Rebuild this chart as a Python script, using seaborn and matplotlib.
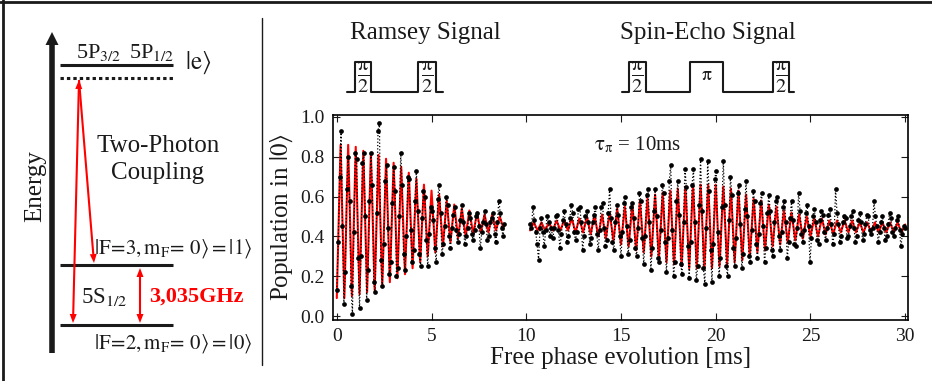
import numpy as np
import pandas as pd
import seaborn as sns
import matplotlib.pyplot as plt

sns.set_theme(style='ticks', rc={'text.color': 'k', 'axes.labelcolor': 'k', 'xtick.color': 'k',
                                 'ytick.color': 'k', 'axes.edgecolor': 'k'})
plt.rcParams['font.family'] = ['Liberation Serif', 'DejaVu Serif']
plt.rcParams['mathtext.fontset'] = 'stix'

# measured population in |0>, Ramsey part (sampled every 0.075 ms from 0 ms)
ramsey_t0, ramsey_dt = 0.0, 0.075
ramsey_pop = [
    0.13, 0.37, 0.70, 0.93, 0.45, 0.06, 0.22, 0.64, 0.80, 0.58, 0.15, 0.01, 0.42, 0.82, 0.79, 0.29,
    0.04, 0.30, 0.77, 0.82, 0.50, 0.08, 0.23, 0.58, 0.82, 0.66, 0.17, 0.12, 0.52, 0.93, 0.97, 0.28,
    0.15, 0.36, 0.68, 0.76, 0.44, 0.21, 0.27, 0.57, 0.75, 0.63, 0.20, 0.24, 0.50, 0.82, 0.66, 0.31,
    0.23, 0.40, 0.70, 0.69, 0.43, 0.27, 0.33, 0.58, 0.73, 0.53, 0.31, 0.25, 0.49, 0.63, 0.60, 0.38,
    0.25, 0.41, 0.55, 0.53, 0.48, 0.34, 0.27, 0.59, 0.66, 0.52, 0.31, 0.36, 0.45, 0.60, 0.56, 0.40,
    0.34, 0.44, 0.51, 0.55, 0.43, 0.37, 0.41, 0.48, 0.56, 0.47, 0.36, 0.40, 0.44, 0.52, 0.49, 0.41,
    0.38, 0.43, 0.50, 0.52, 0.45, 0.34, 0.42, 0.47, 0.53, 0.46, 0.38, 0.40, 0.47, 0.49, 0.52, 0.41,
    0.37, 0.47, 0.58, 0.52, 0.44, 0.40, 0.46,
]
# fit curve, extrema every 0.2 ms
ramsey_fit_dt = 0.2
ramsey_fit = [
    0.09, 0.86, 0.09, 0.86, 0.10, 0.85, 0.11, 0.83, 0.12, 0.82, 0.13, 0.81, 0.15, 0.79, 0.17, 0.77,
    0.19, 0.75, 0.21, 0.72, 0.24, 0.69, 0.27, 0.66, 0.30, 0.63, 0.32, 0.61, 0.35, 0.58, 0.37, 0.56,
    0.39, 0.54, 0.40, 0.53, 0.41, 0.52, 0.42, 0.51, 0.42, 0.51, 0.43, 0.50, 0.44,
]

# spin-echo part (sampled every 0.075 ms from 10.2 ms)
echo_t0, echo_dt = 10.2, 0.075
echo_pop = [
    0.46, 0.44, 0.55, 0.48, 0.42, 0.36, 0.28, 0.44, 0.49, 0.42, 0.35, 0.43, 0.50, 0.47, 0.40, 0.44,
    0.39, 0.44, 0.50, 0.51, 0.43, 0.34, 0.41, 0.48, 0.53, 0.46, 0.37, 0.40, 0.49, 0.56, 0.52, 0.42,
    0.38, 0.42, 0.54, 0.55, 0.47, 0.33, 0.40, 0.50, 0.53, 0.47, 0.36, 0.39, 0.47, 0.51, 0.55, 0.41,
    0.33, 0.43, 0.55, 0.57, 0.44, 0.35, 0.38, 0.52, 0.64, 0.49, 0.37, 0.33, 0.47, 0.56, 0.51, 0.40,
    0.30, 0.42, 0.57, 0.60, 0.45, 0.31, 0.38, 0.55, 0.57, 0.49, 0.34, 0.30, 0.44, 0.62, 0.58, 0.39,
    0.26, 0.40, 0.61, 0.64, 0.47, 0.23, 0.34, 0.53, 0.64, 0.50, 0.29, 0.27, 0.43, 0.66, 0.62, 0.37,
    0.22, 0.39, 0.68, 0.76, 0.43, 0.20, 0.27, 0.58, 0.68, 0.51, 0.26, 0.21, 0.47, 0.74, 0.65, 0.35,
    0.19, 0.37, 0.66, 0.74, 0.47, 0.18, 0.25, 0.56, 0.79, 0.53, 0.24, 0.16, 0.44, 0.78, 0.63, 0.33,
    0.17, 0.36, 0.69, 0.73, 0.42, 0.20, 0.29, 0.55, 0.78, 0.56, 0.25, 0.20, 0.48, 0.70, 0.61, 0.34,
    0.25, 0.39, 0.62, 0.66, 0.46, 0.24, 0.31, 0.54, 0.68, 0.50, 0.30, 0.27, 0.43, 0.63, 0.58, 0.36,
    0.29, 0.41, 0.57, 0.62, 0.45, 0.27, 0.34, 0.52, 0.61, 0.53, 0.33, 0.30, 0.47, 0.58, 0.60, 0.40,
    0.33, 0.42, 0.55, 0.58, 0.47, 0.29, 0.37, 0.49, 0.58, 0.48, 0.36, 0.35, 0.44, 0.62, 0.53, 0.41,
    0.37, 0.43, 0.52, 0.56, 0.45, 0.27, 0.39, 0.50, 0.54, 0.47, 0.38, 0.36, 0.48, 0.53, 0.51, 0.42,
    0.38, 0.44, 0.51, 0.54, 0.46, 0.36, 0.41, 0.64, 0.52, 0.46, 0.37, 0.40, 0.47, 0.50, 0.49, 0.39,
    0.40, 0.45, 0.50, 0.53, 0.44, 0.37, 0.40, 0.48, 0.52, 0.47, 0.38, 0.41, 0.46, 0.51, 0.50, 0.43,
    0.41, 0.44, 0.58, 0.50, 0.45, 0.37, 0.42, 0.47, 0.50, 0.44, 0.38, 0.40, 0.46, 0.52, 0.49, 0.42,
    0.40, 0.44, 0.48, 0.50, 0.43, 0.35, 0.41, 0.45, 0.44,
]
echo_fit_dt = 0.2
echo_fit = [
    0.43, 0.47, 0.43, 0.47, 0.43, 0.47, 0.43, 0.48, 0.43, 0.48, 0.43, 0.49, 0.42, 0.49, 0.42, 0.50,
    0.41, 0.51, 0.40, 0.51, 0.39, 0.52, 0.38, 0.54, 0.36, 0.55, 0.35, 0.56, 0.33, 0.58, 0.32, 0.59,
    0.30, 0.61, 0.29, 0.62, 0.27, 0.63, 0.26, 0.64, 0.25, 0.65, 0.24, 0.66, 0.24, 0.66, 0.24, 0.66,
    0.24, 0.66, 0.25, 0.65, 0.26, 0.64, 0.27, 0.63, 0.28, 0.61, 0.30, 0.59, 0.32, 0.58, 0.33, 0.56,
    0.35, 0.55, 0.36, 0.53, 0.37, 0.52, 0.38, 0.51, 0.39, 0.50, 0.40, 0.49, 0.40, 0.49, 0.41, 0.48,
    0.41, 0.48, 0.42, 0.48, 0.42, 0.48, 0.42, 0.47, 0.42, 0.47, 0.42, 0.47, 0.42, 0.47, 0.42, 0.47,
    0.42, 0.47, 0.42, 0.46,
]

xticks = [0, 5, 10, 15, 20, 25, 30]
yticks = [0.0, 0.2, 0.4, 0.6, 0.8, 1.0]

RED = '#ff0000'

fig = plt.figure(figsize=(9.32, 3.81), dpi=100)
ax = fig.add_axes([0.3573, 0.1601, 0.6170, 0.5381])

segments = [
    (ramsey_t0, ramsey_dt, ramsey_pop, ramsey_t0, ramsey_fit_dt, ramsey_fit),
    (echo_t0, echo_dt, echo_pop, echo_t0, echo_fit_dt, echo_fit),
]
for t0, dt, pop, ft0, fdt, fit in segments:
    fit_df = pd.DataFrame({'t': ft0 + fdt * np.arange(len(fit)), 'p': fit})
    sns.lineplot(data=fit_df, x='t', y='p', ax=ax, color=RED, lw=1.5,
                 estimator=None, sort=False, zorder=2)
    df = pd.DataFrame({'t': t0 + dt * np.arange(len(pop)), 'p': pop})
    sns.lineplot(data=df, x='t', y='p', ax=ax, color='black', lw=0.9, linestyle=':',
                 marker='o', markersize=3.4, markeredgewidth=0, estimator=None, sort=False, zorder=3)

ax.set_xlim(-0.2, 30.15)
ax.set_ylim(-0.02, 1.01)
ax.set_xticks(xticks)
ax.set_yticks(yticks)
ax.set_yticklabels(['%.1f' % v for v in yticks])
ax.tick_params(direction='in', length=5, width=0.8, top=True, right=True, labelsize=14, pad=6)
for s in ax.spines.values():
    s.set_linewidth(1.2)
    s.set_color('black')
ax.set_xlabel('Free phase evolution [ms]', fontsize=18, labelpad=1)
ax.set_ylabel(r'Population in $|0\rangle$', fontsize=18, labelpad=4)
ax.text(15.9, 0.86, r'$\mathrm{\tau}_\mathrm{\pi}$ = 10ms', fontsize=15, ha='center', va='center')

# overlay in pixel coordinates for the schematic parts
ov = fig.add_axes([0, 0, 1, 1])
ov.set_xlim(0, 932)
ov.set_ylim(381, 0)
ov.axis('off')
ov.patch.set_alpha(0)


def head(tip, tail, color, length=9, width=7):
    tip = np.array(tip, float)
    tail = np.array(tail, float)
    d = (tip - tail) / np.hypot(*(tip - tail))
    n = np.array([-d[1], d[0]])
    base = tip - d * length
    pts = np.array([tip, base + n * width / 2, base - n * width / 2])
    ov.fill(pts[:, 0], pts[:, 1], color=color, lw=0, zorder=4)
    return base


def arrow(p0, p1, color, both=True, lw=1.5, length=9, width=7):
    b1 = head(p1, p0, color, length, width)
    b0 = head(p0, p1, color, length, width) if both else p0
    ov.plot([b0[0], b1[0]], [b0[1], b1[1]], color=color, lw=lw, solid_capstyle='butt')


# borders
ov.plot([0, 932], [1.5, 1.5], color='k', lw=2)
ov.plot([3, 3], [0, 381], color='k', lw=2)
ov.plot([262, 262], [18, 365], color='k', lw=1)

# energy axis
ov.plot([52, 52], [353, 44], color='k', lw=4, solid_capstyle='butt')
ov.fill([45.5, 58.5, 52], [45, 45, 32], color='k', lw=0)
ov.text(35, 186, 'Energy', rotation=90, ha='center', va='center', fontsize=18)

# levels
ov.plot([60, 173], [65, 65], color='k', lw=2.2, solid_capstyle='butt')
ov.plot([60, 173], [78, 78], color='k', lw=2.2, linestyle=(0, (1.1, 1)))
ov.plot([60, 173], [265, 265], color='k', lw=2.2, solid_capstyle='butt')
ov.plot([60, 173], [325, 325], color='k', lw=2.2, solid_capstyle='butt')

ov.text(76, 58, r'5P$_{3/2}$', fontsize=16, va='baseline')
ov.text(129, 58, r'5P$_{1/2}$', fontsize=16, va='baseline')
ov.text(185, 63, r'$|\mathrm{e}\rangle$', fontsize=18, va='center')
ov.text(158, 146, 'Two-Photon', fontsize=18, ha='center', va='center')
ov.text(158, 173, 'Coupling', fontsize=18, ha='center', va='center')
ov.text(173, 249, r'$|\mathrm{F\!=\!3,m_F\!=\,0}\rangle=|1\rangle$', fontsize=15, ha='center', va='center')
ov.text(173, 344, r'$|\mathrm{F\!=\!2,m_F\!=\,0}\rangle=|0\rangle$', fontsize=15, ha='center', va='center')
ov.text(81, 297, r'5S$_{1/2}$', fontsize=16.5, va='center')
ov.text(196, 297, '3,035GHz', fontsize=16, fontweight='bold', color=RED, ha='center', va='center')

# red transitions
arrow((79, 80), (73, 323), RED)
arrow((79, 80), (94, 263), RED, both=False)
arrow((140, 268), (140, 323), RED)

# pulse sequences
ram_x = [347, 355, 355, 371, 371, 418, 418, 436, 436, 443]
echo_x = [622, 629, 629, 646, 646, 690, 690, 723, 723, 773, 773, 789, 789, 794]
lo, hi = 92, 62
for xs in (ram_x, echo_x):
    ys = [lo if (i // 2) % 2 == 0 else hi for i in range(len(xs))]
    ov.plot(xs, ys, color='k', lw=1.5)
for xc in (363, 427, 637.5, 781):
    ov.text(xc, 77.5, r'$\frac{\mathrm{\pi}}{2}$', fontsize=21, ha='center', va='center')
ov.text(706.5, 75, r'$\mathrm{\pi}$', fontsize=14, ha='center', va='center')
ov.text(425, 33, 'Ramsey Signal', fontsize=18, ha='center', va='center')
ov.text(708, 33, 'Spin-Echo Signal', fontsize=18, ha='center', va='center')

fig.savefig('out.png', dpi=100)
